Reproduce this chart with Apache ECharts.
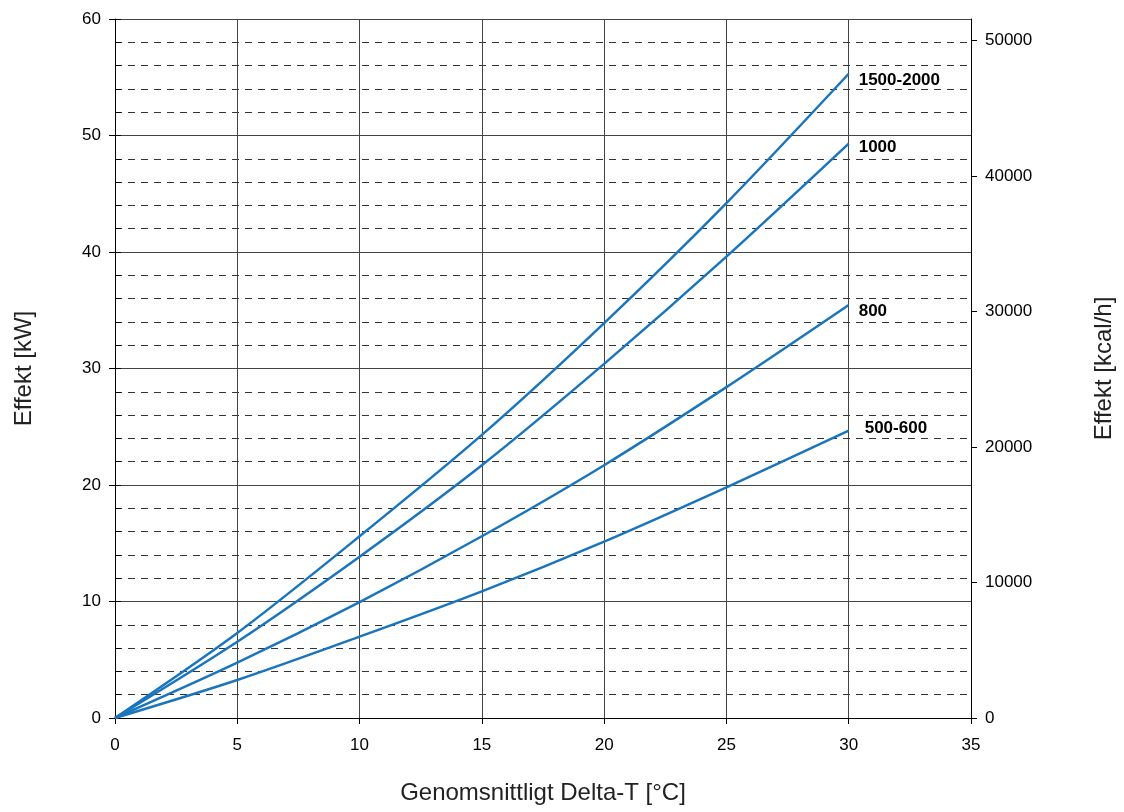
<!DOCTYPE html>
<html>
<head>
<meta charset="utf-8">
<script src="https://cdn.jsdelivr.net/npm/echarts@6/dist/echarts.min.js"></script>
<style>
html,body{margin:0;padding:0;background:#fff;}
#chart{width:1124px;height:812px;}
</style>
</head>
<body>
<div id="chart"></div>
<script>
// Data
const deltaT = [0, 5, 10, 15, 20, 25, 30];
const seriesNames = ['1500-2000', '1000', '800', '500-600'];
const s1500_2000 = [0, 7.3, 15.6, 24.3, 33.9, 44.2, 55.3];
const s1000 = [0, 6.55, 13.85, 21.7, 30.4, 39.6, 49.3];
const s800 = [0, 4.75, 9.95, 15.6, 21.7, 28.4, 35.45];
const s500_600 = [0, 3.26, 6.98, 10.87, 15.14, 19.8, 24.66];
const kwToKcal = 860;

const allValues = [s1500_2000, s1000, s800, s500_600];
const FONT = '"Liberation Sans", Arial, sans-serif';
const LINE = '#1a75bc';
const labelOffsets = [[0, 7], [0, 4], [0, 6], [0, -2]];
const labelDistances = [10, 10, 10, 16];

const chart = echarts.init(document.getElementById('chart'));

const series = allValues.map((vals, i) => ({
  name: seriesNames[i],
  type: 'line',
  xAxisIndex: 0,
  yAxisIndex: 0,
  data: deltaT.map((x, j) => [x, vals[j]]),
  smooth: 0.3,
  symbol: 'none',
  lineStyle: { color: LINE, width: 2.5 },
  endLabel: {
    show: true,
    formatter: seriesNames[i],
    color: '#000',
    fontWeight: 'bold',
    fontSize: 17,
    fontFamily: FONT,
    distance: labelDistances[i],
    offset: labelOffsets[i]
  },
  animation: false,
  z: 5
}));

chart.setOption({
  animation: false,
  textStyle: { fontFamily: FONT },
  grid: { left: 115, right: 146, top: 19, bottom: 94, containLabel: false },
  xAxis: [{
    type: 'value',
    min: 0, max: 35, interval: 5,
    name: 'Genomsnittligt Delta-T [°C]',
    nameLocation: 'middle',
    nameGap: 63,
    nameTextStyle: { fontSize: 24, color: '#222', fontFamily: FONT },
    axisLine: { show: true, lineStyle: { color: '#000', width: 1 } },
    axisTick: { show: true, length: 6, lineStyle: { color: '#000' } },
    axisLabel: { fontSize: 17, color: '#000', margin: 19, fontFamily: FONT },
    splitLine: { show: true, lineStyle: { color: '#444', width: 1 } }
  }],
  yAxis: [{
    type: 'value',
    position: 'left',
    min: 0, max: 60, interval: 10,
    name: 'Effekt [kW]',
    nameLocation: 'middle',
    nameGap: 79,
    nameRotate: 90,
    nameTextStyle: { fontSize: 24, color: '#222', fontFamily: FONT },
    axisLine: { show: true, lineStyle: { color: '#000', width: 1 } },
    axisTick: { show: true, length: 6, lineStyle: { color: '#000' } },
    axisLabel: { fontSize: 17, color: '#000', margin: 14, fontFamily: FONT },
    splitLine: { show: true, lineStyle: { color: '#444', width: 1 } },
    minorTick: { show: false, splitNumber: 5 },
    minorSplitLine: { show: true, lineStyle: { color: '#333', width: 1, type: [7, 6] } }
  }, {
    type: 'value',
    position: 'left',
    min: 0, max: 60, interval: 2,
    axisLine: { show: false },
    axisTick: { show: true, inside: true, length: 6, lineStyle: { color: '#000' } },
    axisLabel: { show: false },
    splitLine: { show: false }
  }, {
    type: 'value',
    position: 'right',
    min: 0, max: 60 * kwToKcal, interval: 10000,
    name: 'Effekt [kcal/h]',
    nameLocation: 'middle',
    nameGap: 121,
    nameRotate: 90,
    nameTextStyle: { fontSize: 24, color: '#222', fontFamily: FONT },
    axisLine: { show: true, lineStyle: { color: '#000', width: 1 } },
    axisTick: { show: true, length: 6, lineStyle: { color: '#000' } },
    axisLabel: {
      fontSize: 17, color: '#000', margin: 14, fontFamily: FONT,
      showMaxLabel: false,
      formatter: v => (v % 10000 === 0 ? String(v) : '')
    },
    splitLine: { show: false }
  }],
  series: series
});
</script>
</body>
</html>
